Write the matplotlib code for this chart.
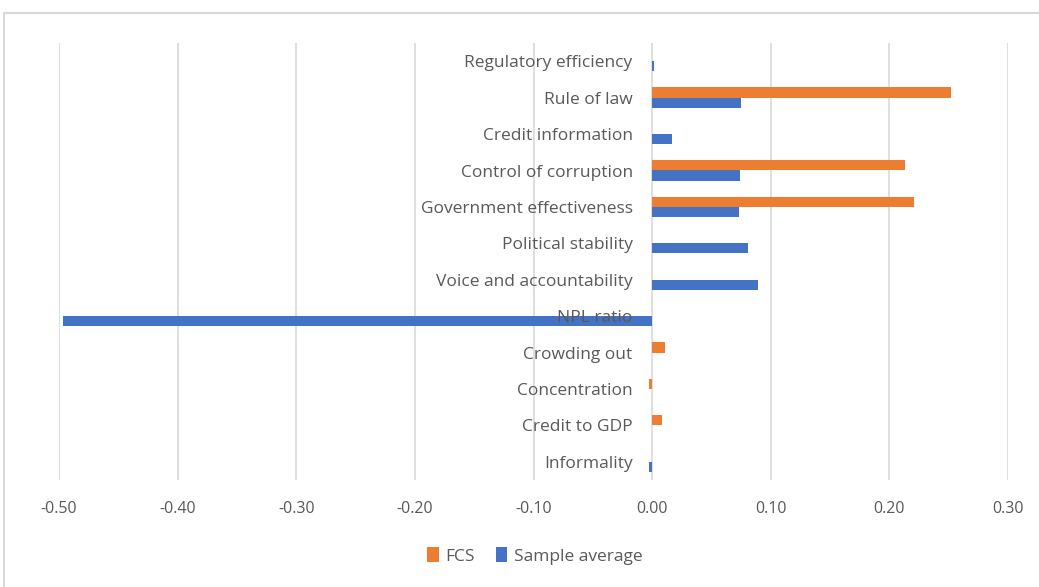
import numpy as np
import matplotlib.pyplot as plt
import matplotlib
from matplotlib.patches import Rectangle

matplotlib.rc('font', family=['Open Sans', 'DejaVu Sans'])

categories = ['Informality', 'Credit to GDP', 'Concentration', 'Crowding out',
              'NPL ratio', 'Voice and accountability', 'Political stability',
              'Government effectiveness', 'Control of corruption',
              'Credit information', 'Rule of law', 'Regulatory efficiency']
fcs = [0.0, 0.008, -0.003, 0.011, 0.0, 0.0, 0.0, 0.221, 0.213, 0.0, 0.252, 0.0]
sample_avg = [-0.003, 0.0, 0.0, 0.0, -0.497, 0.089, 0.081, 0.073, 0.074, 0.017, 0.075, 0.002]
xticks = [-0.5, -0.4, -0.3, -0.2, -0.1, 0.0, 0.1, 0.2, 0.3]

orange = '#ED7D31'
blue = '#4472C4'
txt = '#595959'

fig = plt.figure(figsize=(10.39, 5.87), dpi=100)
fig.patches.append(Rectangle((4/1039, -0.05), 1.1, 1 - 13/587 + 0.05,
                             transform=fig.transFigure, fill=False,
                             edgecolor='#D9D9D9', linewidth=1.5))
ax = fig.add_axes([59/1039, 1 - 480/587, (1008 - 59)/1039, 437/587])

y = np.arange(len(categories))
h = 0.28
ax.barh(y + h/2, fcs, height=h, color=orange, label='FCS', zorder=2)
ax.barh(y - h/2, sample_avg, height=h, color=blue, label='Sample average', zorder=2)

for i, c in enumerate(categories):
    ax.annotate(c, xy=(0, i), xytext=(-14, -1.5), textcoords='offset points',
                ha='right', va='center', fontsize=12.5, color=txt, zorder=3)

ax.set_xlim(-0.5, 0.3)
ax.set_ylim(-0.5, len(categories) - 0.5)
ax.set_xticks(xticks)
ax.set_xticklabels(['%.2f' % t for t in xticks], fontsize=11.5, color=txt)
ax.set_yticks([])
ax.tick_params(axis='x', length=0, pad=15)
ax.grid(axis='x', color='#D9D9D9', linewidth=1.2, zorder=0)
ax.set_axisbelow(True)
for s in ax.spines.values():
    s.set_visible(False)

leg = fig.legend(loc='center', bbox_to_anchor=(535/1039, 1 - 556/587), ncol=2,
                 frameon=False, fontsize=12.5, handlelength=0.65, handleheight=0.95,
                 handletextpad=0.4, columnspacing=1.2)
for t in leg.get_texts():
    t.set_color(txt)

plt.savefig('out.png', dpi=100)
